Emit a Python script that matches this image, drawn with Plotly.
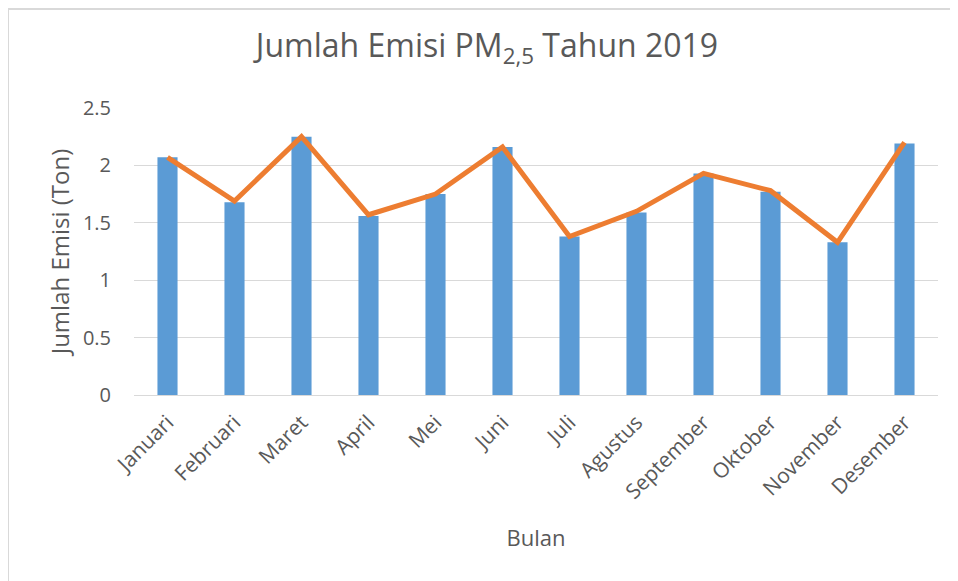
import plotly.graph_objects as go

bulan = ["Januari", "Februari", "Maret", "April", "Mei", "Juni", "Juli",
         "Agustus", "September", "Oktober", "November", "Desember"]
emisi_bar = [2.07, 1.68, 2.25, 1.56, 1.75, 2.16, 1.38, 1.59, 1.93, 1.77, 1.33, 2.19]
emisi_line = [2.07, 1.69, 2.25, 1.57, 1.75, 2.16, 1.38, 1.60, 1.93, 1.78, 1.33, 2.20]
y_ticks = [0, 0.5, 1, 1.5, 2, 2.5]
y_ticklabels = ["0", "0.5", "1", "1.5", "2", "2.5"]

FONT = "Open Sans"
TXT = "#595959"

W, H = 950, 573
L, R, T, B = 126, 20, 100, 186
PW, PH = W - L - R, H - T - B

fig = go.Figure()
fig.add_trace(go.Bar(x=bulan, y=emisi_bar, width=0.3,
                     marker=dict(color="#5B9BD5", line=dict(width=0)),
                     showlegend=False, hoverinfo="x+y"))
fig.add_trace(go.Scatter(x=bulan, y=emisi_line, mode="lines",
                         line=dict(color="#ED7D31", width=5),
                         showlegend=False))

fig.update_layout(
    width=W, height=H,
    margin=dict(l=L, r=R, t=T, b=B),
    paper_bgcolor="white", plot_bgcolor="white",
    font=dict(family=FONT, color=TXT),
    title=dict(text="Jumlah Emisi PM<sub>2,5</sub> Tahun 2019",
               x=(487 - 8) / W, xanchor="center", xref="container",
               y=1 - 38 / H, yanchor="middle",
               font=dict(family=FONT, size=32, color=TXT)),
)
fig.update_xaxes(
    tickangle=-45, tickfont=dict(size=21, color=TXT),
    showgrid=False, showline=False, ticks="", ticklabelstandoff=10,
    title=dict(text="Bulan", font=dict(size=22, color=TXT), standoff=26),
)
fig.update_yaxes(
    range=[0, 2.5], tickvals=y_ticks, ticktext=y_ticklabels,
    tickfont=dict(size=20, color=TXT),
    showgrid=True, gridcolor="#d9d9d9", gridwidth=1,
    zeroline=True, zerolinecolor="#d9d9d9", zerolinewidth=1,
    showline=False, ticks="", ticklabelstandoff=22,
    title=dict(text="Jumlah Emisi (Ton)", font=dict(size=24, color=TXT), standoff=6),
)

# outer chart border (top and left visible)
fig.add_shape(type="line", xref="paper", yref="paper",
              x0=(0 - L) / PW, x1=(W + 10 - L) / PW,
              y0=(H - B - 1) / PH, y1=(H - B - 1) / PH,
              line=dict(color="#d9d9d9", width=2))
fig.add_shape(type="line", xref="paper", yref="paper",
              x0=(0 - L) / PW, x1=(0 - L) / PW,
              y0=(H - B - 1) / PH, y1=(H - B - H - 10) / PH,
              line=dict(color="#d9d9d9", width=2))

fig.write_html("out.html")
